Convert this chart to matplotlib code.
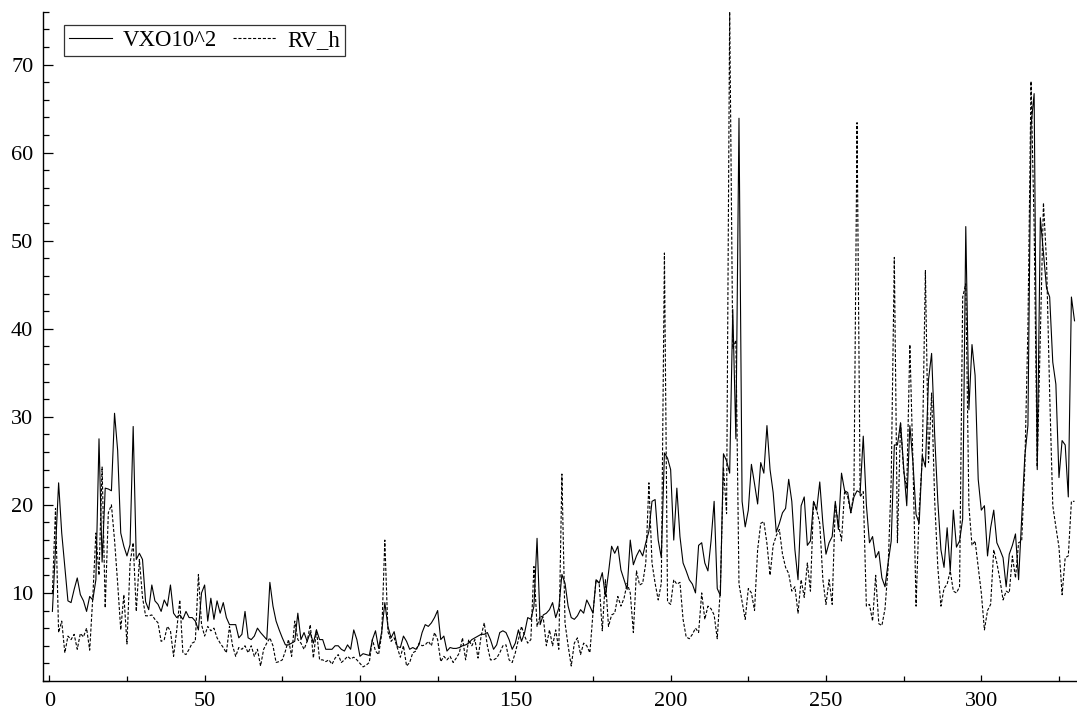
import matplotlib
matplotlib.use("Agg")
import matplotlib.pyplot as plt
from matplotlib.ticker import MultipleLocator
import numpy as np

vxo = [
    7.9, 15.0, 22.5, 16.8, 13.0, 9.1, 8.9, 10.4, 11.7, 9.8,
    9.1, 7.9, 9.6, 9.2, 11.5, 27.5, 13.5, 21.9, 21.8, 21.6,
    30.4, 26.2, 16.8, 15.3, 14.2, 15.5, 28.9, 13.8, 14.5, 13.8,
    9.0, 8.1, 10.9, 9.1, 8.7, 7.9, 9.2, 8.5, 10.9, 7.7,
    7.2, 7.5, 7.0, 7.9, 7.2, 7.2, 6.8, 5.8, 10.0, 10.9,
    6.8, 9.4, 7.0, 9.1, 7.7, 8.9, 7.2, 6.4, 6.4, 6.4,
    4.9, 5.3, 7.9, 4.9, 4.7, 5.1, 6.0, 5.5, 5.1, 4.7,
    11.2, 8.5, 6.8, 5.8, 4.9, 4.1, 4.1, 4.3, 4.5, 7.7,
    4.7, 5.5, 4.5, 5.5, 4.3, 5.8, 4.7, 4.7, 3.6, 3.6,
    3.6, 4.0, 4.0, 3.6, 3.4, 4.1, 3.6, 5.8, 4.7, 2.8,
    3.1, 3.0, 2.9, 4.7, 5.7, 3.7, 5.6, 8.9, 6.2, 4.9,
    5.6, 3.9, 3.8, 5.1, 4.5, 3.6, 3.8, 3.6, 4.1, 5.5,
    6.4, 6.2, 6.6, 7.2, 8.0, 4.7, 5.1, 3.4, 3.8, 3.7,
    3.7, 3.8, 4.0, 4.1, 4.3, 4.7, 4.9, 5.1, 5.3, 5.3,
    5.5, 4.7, 3.6, 4.1, 5.5, 5.7, 5.5, 4.7, 3.6, 4.3,
    5.8, 4.5, 5.5, 7.2, 7.0, 8.5, 16.2, 6.4, 7.5, 7.7,
    8.1, 8.9, 7.2, 8.3, 12.1, 11.1, 8.5, 7.2, 7.0, 7.4,
    8.1, 7.7, 9.2, 8.5, 7.7, 11.5, 11.1, 12.3, 9.6, 12.3,
    15.3, 14.5, 15.3, 12.6, 11.5, 10.4, 16.0, 13.2, 14.2, 14.9,
    14.2, 15.7, 17.0, 20.4, 20.6, 16.0, 14.0, 25.9, 25.3, 24.0,
    16.0, 21.9, 16.4, 13.4, 12.5, 11.5, 11.0, 10.0, 15.4, 15.7,
    13.4, 12.5, 15.9, 20.4, 10.5, 9.7, 25.8, 25.0, 23.6, 42.2,
    27.5, 63.9, 20.4, 17.5, 19.4, 24.6, 22.4, 20.1, 24.8, 23.6,
    29.0, 24.0, 21.4, 16.9, 17.9, 19.1, 19.6, 22.9, 20.4, 14.9,
    11.5, 19.9, 20.9, 15.4, 15.9, 20.4, 19.4, 22.6, 17.9, 14.4,
    15.7, 16.4, 20.4, 17.2, 23.6, 21.6, 21.4, 19.1, 20.9, 21.6,
    21.4, 27.8, 20.0, 15.7, 16.4, 14.0, 14.7, 11.7, 10.7, 13.4,
    15.9, 26.8, 26.8, 29.3, 24.3, 19.9, 29.0, 24.8, 18.9, 17.9,
    25.6, 24.3, 34.2, 37.2, 27.8, 20.4, 14.9, 12.9, 17.4, 12.5,
    19.4, 15.2, 15.9, 18.4, 51.6, 30.8, 38.2, 34.7, 22.9, 19.4,
    19.9, 14.2, 17.4, 19.4, 15.7, 14.9, 14.0, 10.7, 14.4, 15.4,
    16.7, 11.5, 18.4, 25.5, 29.0, 63.0, 66.7, 24.0, 52.6, 48.6,
    44.6, 43.6, 36.2, 33.7, 23.1, 27.3, 26.8, 20.9, 43.6, 40.9,
]

rv_h = [
    10.0, 19.6, 5.5, 6.8, 3.2, 5.1, 4.7, 5.3, 3.6, 5.4,
    5.0, 6.0, 3.5, 9.5, 16.8, 12.0, 24.3, 8.3, 19.1, 20.0,
    16.0, 11.1, 5.8, 9.8, 4.2, 13.4, 15.7, 7.9, 13.8, 9.5,
    7.4, 7.4, 7.5, 7.0, 6.6, 4.5, 4.7, 6.2, 5.7, 2.8,
    5.7, 9.2, 3.2, 3.0, 3.6, 4.3, 4.5, 12.1, 6.4, 5.1,
    6.2, 5.7, 6.0, 4.9, 4.3, 3.8, 3.2, 6.2, 4.0, 2.8,
    3.8, 3.6, 4.0, 3.2, 4.0, 2.8, 3.6, 1.7, 3.6, 4.3,
    4.9, 4.0, 2.1, 2.2, 2.4, 3.4, 4.7, 2.8, 6.8, 4.7,
    4.3, 3.6, 4.5, 6.4, 2.6, 5.8, 2.4, 2.4, 2.2, 2.4,
    1.9, 2.6, 3.0, 2.1, 2.4, 2.8, 2.5, 2.7, 2.4, 2.0,
    1.6, 1.8, 2.1, 4.7, 3.4, 3.0, 5.3, 16.0, 5.6, 4.5,
    4.9, 3.8, 2.7, 4.0, 1.7, 2.1, 3.2, 3.4, 4.3, 4.0,
    4.1, 4.5, 4.0, 5.5, 4.7, 2.2, 2.8, 2.4, 2.8, 2.1,
    2.6, 3.2, 4.9, 2.4, 4.7, 4.0, 4.7, 2.6, 5.1, 6.6,
    4.0, 2.4, 2.4, 2.6, 3.2, 4.0, 4.1, 2.4, 2.1, 3.2,
    4.7, 6.2, 5.1, 4.3, 4.7, 13.0, 6.2, 7.4, 7.2, 4.0,
    5.8, 4.0, 5.8, 3.6, 23.5, 6.6, 4.0, 1.7, 4.3, 4.9,
    3.0, 4.3, 4.0, 3.2, 7.7, 11.5, 11.1, 5.7, 11.5, 6.2,
    7.5, 7.7, 9.6, 8.5, 9.4, 11.1, 10.0, 5.5, 12.5, 10.9,
    11.1, 13.4, 22.5, 13.4, 11.1, 9.2, 11.1, 48.6, 9.0, 8.7,
    11.5, 11.0, 11.2, 7.0, 5.0, 4.8, 5.3, 6.0, 5.5, 10.0,
    7.0, 8.5, 8.2, 7.5, 4.8, 10.5, 24.3, 19.0, 76.0, 37.7,
    38.7, 11.0, 9.0, 7.0, 10.5, 10.0, 8.0, 14.9, 17.9, 18.1,
    15.6, 12.0, 15.4, 16.5, 17.2, 14.4, 12.9, 12.2, 10.2, 10.7,
    7.7, 11.5, 9.5, 13.4, 10.2, 20.4, 19.4, 17.9, 11.5, 8.7,
    11.5, 8.7, 20.1, 17.9, 15.9, 21.6, 20.9, 19.1, 21.4, 63.4,
    20.9, 21.5, 8.5, 8.7, 6.8, 12.0, 6.5, 6.3, 8.2, 12.9,
    22.9, 48.1, 15.7, 29.3, 23.8, 21.9, 38.2, 24.8, 8.5, 19.4,
    25.3, 46.6, 24.8, 32.7, 20.4, 12.9, 8.5, 10.5, 11.0, 12.5,
    10.2, 10.0, 10.7, 43.6, 45.1, 19.9, 15.4, 15.9, 12.9, 10.0,
    5.8, 8.0, 8.7, 14.9, 13.4, 11.5, 9.2, 10.2, 10.0, 14.2,
    11.7, 15.7, 15.9, 24.3, 40.0, 68.1, 51.6, 24.3, 39.2, 54.3,
    47.6, 32.7, 19.9, 17.5, 15.2, 9.8, 14.0, 14.2, 20.4, 20.4,
]

labels = ["VXO10^2", "RV_h"]
obs = np.arange(1, len(vxo) + 1)

plt.rcParams['font.family'] = ['Liberation Serif', 'DejaVu Serif']

fig = plt.figure(figsize=(10.77, 7.13), dpi=100)
ax = fig.add_axes([0.040, 0.0449, 0.960, 0.9387])

ax.plot(obs, vxo, color='black', lw=0.8, label=labels[0])
ax.plot(obs, rv_h, color='black', lw=0.8, linestyle=(0, (2.8, 1.6)), label=labels[1])

ax.set_xlim(-2.0, 330.8)
ax.set_ylim(0, 76)

ax.xaxis.set_major_locator(MultipleLocator(50))
ax.xaxis.set_minor_locator(MultipleLocator(25))
ax.yaxis.set_major_locator(MultipleLocator(10))
ax.yaxis.set_minor_locator(MultipleLocator(2))
ax.set_yticks([10, 20, 30, 40, 50, 60, 70])

for s in ['top', 'right']:
    ax.spines[s].set_visible(False)
for s in ['left', 'bottom']:
    ax.spines[s].set_linewidth(1.0)

ax.tick_params(axis='x', which='major', direction='in', length=4.5, width=0.9,
               labelsize=16, pad=8)
ax.tick_params(axis='x', which='minor', direction='in', length=3.5, width=0.9)
ax.tick_params(axis='y', which='major', direction='in', length=7.2, width=0.9,
               labelsize=16, pad=7)
ax.tick_params(axis='y', which='minor', direction='in', length=4.0, width=0.9)

leg = ax.legend(loc='upper left', bbox_to_anchor=(0.0203, 0.980), borderaxespad=0,
                ncol=2, fontsize=16.5, frameon=True, fancybox=False,
                handlelength=1.85, handletextpad=0.5, columnspacing=0.7,
                borderpad=0.22)
leg.get_frame().set_edgecolor('black')
leg.get_frame().set_linewidth(0.9)

fig.savefig('out.png', dpi=100)
